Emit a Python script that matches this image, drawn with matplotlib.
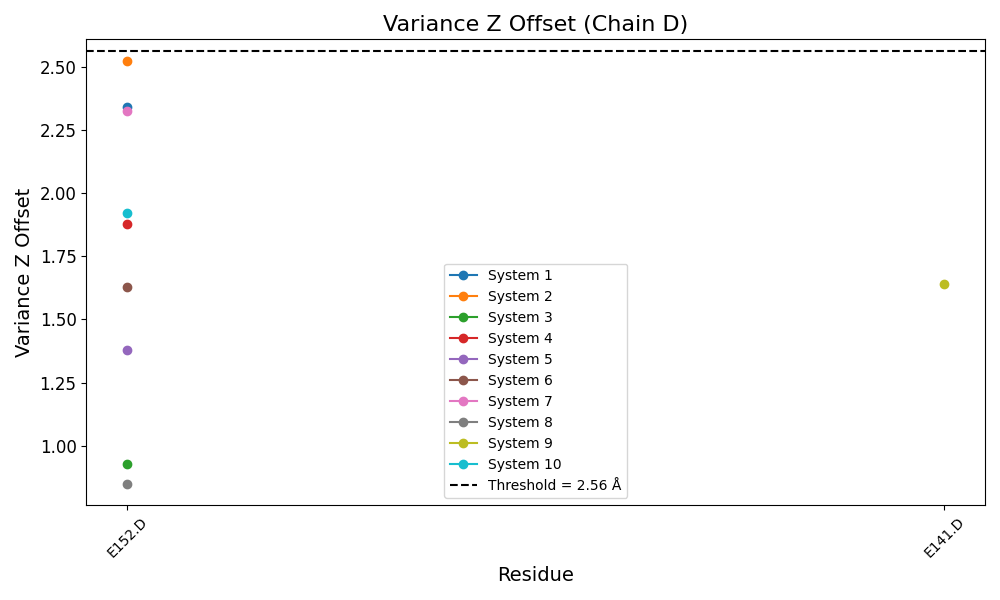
import matplotlib
matplotlib.use("Agg")
import matplotlib.pyplot as plt
import numpy as np

# residue each system was measured at, and its variance of the Z offset
systems = ["System 1", "System 2", "System 3", "System 4", "System 5",
           "System 6", "System 7", "System 8", "System 9", "System 10"]
residues = ["E152.D", "E152.D", "E152.D", "E152.D", "E152.D",
            "E152.D", "E152.D", "E152.D", "E141.D", "E152.D"]
variances = [2.341, 2.524, 0.929, 1.877, 1.381, 1.627, 2.325, 0.849, 1.639, 1.921]
threshold = 2.56

fig, ax = plt.subplots(figsize=(10, 6))

for name, res, val in zip(systems, residues, variances):
    ax.plot([res], [val], marker='o', linestyle='-', label=name)

# keep the y range from the data only, the threshold line doesn't extend it
ax.autoscale_view()
ylim = ax.get_ylim()
ax.axhline(threshold, color='black', linestyle='--', label=f'Threshold = {threshold} Å')
ax.set_ylim(ylim)

ax.set_title('Variance Z Offset (Chain D)', fontsize=16)
ax.set_xlabel('Residue', fontsize=14)
ax.set_ylabel('Variance Z Offset', fontsize=14)
ax.tick_params(axis='y', labelsize=12)
plt.xticks(rotation=45)
ax.legend(loc='lower center')

plt.tight_layout()
plt.savefig('out.png', dpi=100)
